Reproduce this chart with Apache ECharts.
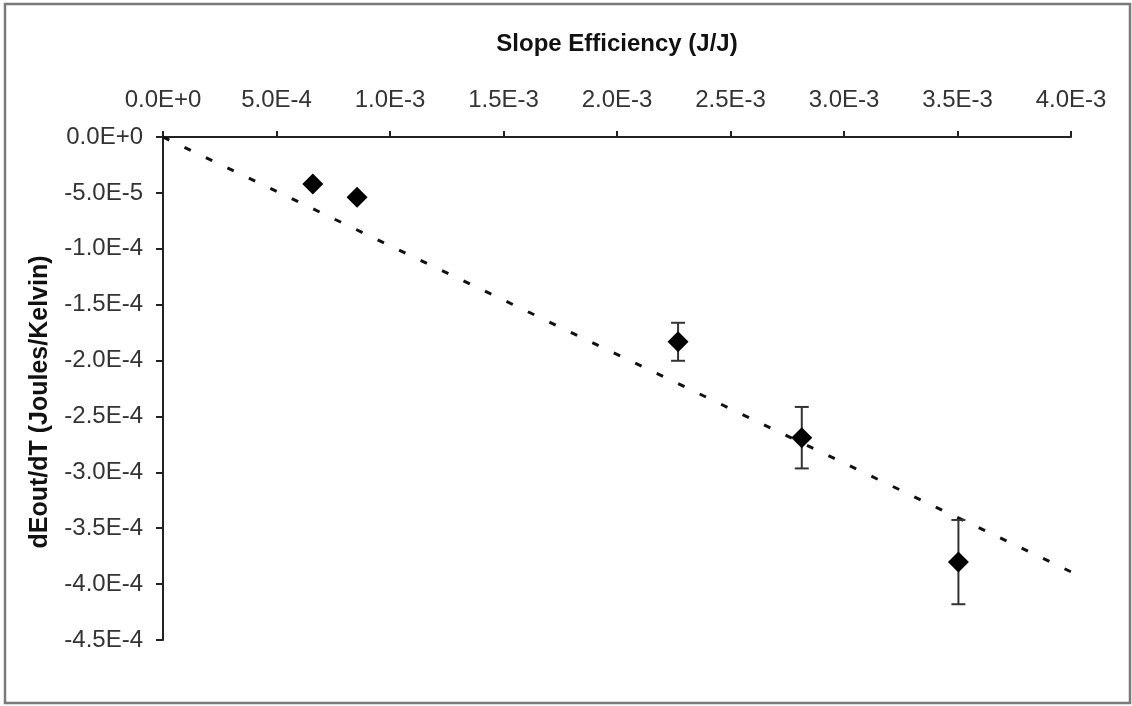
<!DOCTYPE html>
<html>
<head>
<meta charset="utf-8">
<script src="https://cdn.jsdelivr.net/npm/echarts@6/dist/echarts.min.js"></script>
<style>
  html, body { margin: 0; padding: 0; background: #fff; }
  #chart { width: 1132px; height: 706px; }
</style>
</head>
<body>
<div id="chart"></div>
<script>
// Slope efficiency (J/J) of each measurement
const slopeEff = [6.6e-4, 8.55e-4, 2.269e-3, 2.814e-3, 3.504e-3];
// Temperature coefficient of output energy, dEout/dT (J/K)
const dEdT = [-4.2e-5, -5.4e-5, -1.832e-4, -2.69e-4, -3.803e-4];
// Half-width of each error bar (J/K); 0 means no bar drawn
const dEdTErr = [0, 0, 1.7e-5, 2.75e-5, 3.77e-5];
// Linear trend line through the origin, start and end points
const trendX = [0, 4.0e-3];
const trendY = [0, -3.89e-4];

const axisTitleX = 'Slope Efficiency (J/J)';
const axisTitleY = 'dEout/dT (Joules/Kelvin)';

function sci(v) {
  return v.toExponential(1).replace('e', 'E');
}

const chart = echarts.init(document.getElementById('chart'), null, { renderer: 'canvas' });

const points = slopeEff.map((x, i) => [x, dEdT[i]]);
const errData = slopeEff.map((x, i) => [x, dEdT[i] - dEdTErr[i], dEdT[i] + dEdTErr[i], dEdTErr[i]]);
const trendData = trendX.map((x, i) => [x, trendY[i]]);

const labelFont = {
  fontFamily: 'Liberation Sans, Arial, sans-serif',
  fontSize: 24,
  color: '#333'
};

chart.setOption({
  animation: false,
  backgroundColor: '#fff',
  grid: { left: 163, top: 137, width: 908, height: 503 },
  xAxis: {
    type: 'value',
    position: 'top',
    min: 0,
    max: 4.0e-3,
    interval: 5.0e-4,
    axisLine: { show: true, lineStyle: { color: '#222', width: 2 } },
    axisTick: { show: true, inside: false, length: 6, lineStyle: { color: '#222', width: 2 } },
    splitLine: { show: false },
    axisLabel: Object.assign({ margin: 25, formatter: sci }, labelFont)
  },
  yAxis: {
    type: 'value',
    position: 'left',
    min: -4.5e-4,
    max: 0,
    interval: 5.0e-5,
    axisLine: { show: true, onZero: false, lineStyle: { color: '#222', width: 2 } },
    axisTick: { show: true, inside: false, length: 7, lineStyle: { color: '#222', width: 2 } },
    splitLine: { show: false },
    axisLabel: Object.assign({ margin: 20, formatter: sci }, labelFont)
  },
  graphic: [
    {
      type: 'rect',
      shape: { x: 5, y: 4, width: 1125, height: 699 },
      style: { fill: 'none', stroke: '#7a7a7a', lineWidth: 2.5 },
      silent: true
    },
    {
      type: 'text',
      x: 617, y: 44,
      style: {
        text: axisTitleX,
        font: 'bold 24px Liberation Sans, Arial, sans-serif',
        fill: '#111',
        textAlign: 'center',
        textVerticalAlign: 'middle'
      }
    },
    {
      type: 'text',
      x: 40, y: 402,
      rotation: Math.PI / 2,
      style: {
        text: axisTitleY,
        font: 'bold 25px Liberation Sans, Arial, sans-serif',
        fill: '#111',
        textAlign: 'center',
        textVerticalAlign: 'middle'
      }
    }
  ],
  series: [
    {
      type: 'line',
      data: trendData,
      symbol: 'none',
      z: 1,
      lineStyle: { color: '#111', width: 3, type: [7, 16.8], cap: 'butt' }
    },
    {
      type: 'custom',
      z: 2,
      data: errData,
      renderItem: function (params, api) {
        if (api.value(3) <= 0) return null;
        const x = api.value(0);
        const lo = api.coord([x, api.value(1)]);
        const hi = api.coord([x, api.value(2)]);
        const cap = 7;
        const st = { stroke: '#333', lineWidth: 2 };
        return {
          type: 'group',
          children: [
            { type: 'line', shape: { x1: lo[0], y1: lo[1], x2: hi[0], y2: hi[1] }, style: st },
            { type: 'line', shape: { x1: lo[0] - cap, y1: lo[1], x2: lo[0] + cap, y2: lo[1] }, style: st },
            { type: 'line', shape: { x1: hi[0] - cap, y1: hi[1], x2: hi[0] + cap, y2: hi[1] }, style: st }
          ]
        };
      }
    },
    {
      type: 'scatter',
      z: 3,
      data: points,
      symbol: 'diamond',
      symbolSize: [21, 21],
      itemStyle: { color: '#000', opacity: 1 }
    }
  ]
});
</script>
</body>
</html>
